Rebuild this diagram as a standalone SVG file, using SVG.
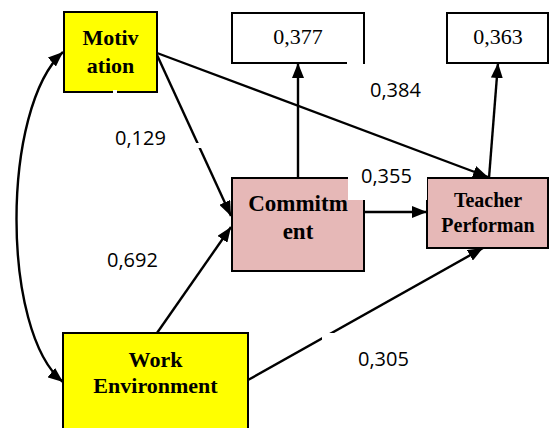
<svg xmlns="http://www.w3.org/2000/svg" width="549" height="428" viewBox="0 0 549 428">
<defs>
<style>
.box{stroke:#000;stroke-width:2}
.yel{fill:#FFFF00}
.pink{fill:#E6B8B7}
.wht{fill:#fff}
.nt{font-family:"Liberation Serif","Times New Roman",serif;font-weight:bold;fill:#000;text-anchor:middle}
.vt{font-family:"Liberation Serif","Times New Roman",serif;font-size:22px;fill:#000;text-anchor:middle}
.lb{font-family:"Open Sans","Liberation Sans",sans-serif;font-size:20px;fill:#000}
.cn{fill:none;stroke:#000;stroke-width:2.4}
</style>
<marker id="ah" markerUnits="userSpaceOnUse" markerWidth="15" markerHeight="12" refX="15" refY="6" orient="auto-start-reverse">
<path d="M0,0 L15,6 L0,12 z" fill="#000"/>
</marker>
</defs>

<g id="connectors">
<path class="cn" d="M63,52 C1,108 1,332 63,382" marker-start="url(#ah)" marker-end="url(#ah)"/>
<line class="cn" x1="157" y1="55" x2="231" y2="216" marker-end="url(#ah)"/>
<line class="cn" x1="157" y1="333" x2="231" y2="227" marker-end="url(#ah)"/>
<line class="cn" x1="157" y1="53" x2="488" y2="177" marker-end="url(#ah)"/>
<line class="cn" x1="248" y1="380" x2="483" y2="248" marker-end="url(#ah)"/>
<line class="cn" x1="364" y1="212" x2="427" y2="212" marker-end="url(#ah)"/>
<line class="cn" x1="298" y1="178" x2="298" y2="63" marker-end="url(#ah)"/>
<line class="cn" x1="489" y1="178" x2="498" y2="63" marker-end="url(#ah)"/>
</g>

<g id="motivation">
<rect class="box yel" x="64" y="12" width="93" height="80"/>
<text class="nt" x="110.5" y="45" font-size="22">Motiv</text>
<text class="nt" x="110.5" y="73" font-size="22">ation</text>
</g>

<g id="work-environment">
<rect class="box yel" x="63" y="333" width="185" height="100"/>
<text class="nt" x="155.5" y="367" font-size="22">Work</text>
<text class="nt" x="155.5" y="393" font-size="22">Environment</text>
</g>

<g id="commitment">
<rect class="box pink" x="232" y="178" width="132" height="93"/>
<text class="nt" x="298" y="211" font-size="23">Commitm</text>
<text class="nt" x="298" y="239" font-size="23">ent</text>
</g>

<g id="teacher-performance">
<rect class="box pink" x="427" y="178" width="121" height="70"/>
<text class="nt" x="488" y="207" font-size="20">Teacher</text>
<text class="nt" x="488" y="232" font-size="20">Performan</text>
</g>

<g id="r2-commitment">
<rect class="box wht" x="232" y="13" width="132" height="50"/>
<text class="vt" x="298" y="44">0,377</text>
</g>

<g id="r2-teacher">
<rect class="box wht" x="447" y="13" width="101" height="50"/>
<text class="vt" x="498" y="44">0,363</text>
</g>

<g id="labels">
<rect class="wht" x="113" y="90" width="4" height="4"/>
<rect class="wht" x="195" y="143" width="6" height="5"/>
<rect class="wht" x="347" y="61" width="16" height="4"/>
<rect class="wht" x="348" y="158" width="79" height="42"/>
<rect class="wht" x="322" y="333" width="30" height="12"/>
<text class="lb" x="115" y="145">0,129</text>
<text class="lb" x="107" y="267">0,692</text>
<text class="lb" x="370" y="97">0,384</text>
<text class="lb" x="361" y="183">0,355</text>
<text class="lb" x="358" y="366">0,305</text>
</g>
</svg>
